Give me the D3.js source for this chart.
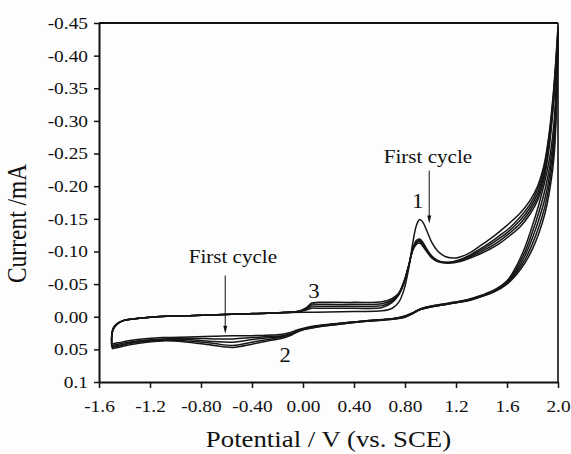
<!DOCTYPE html>
<html>
<head>
<meta charset="utf-8">
<script src="https://cdn.jsdelivr.net/npm/d3@7"></script>
<style>
  html, body { margin: 0; padding: 0; background: #fdfdfd; }
  svg { display: block; }
  text { font-family: "Liberation Serif", "Times New Roman", Times, serif; fill: #111; }
</style>
</head>
<body>
<svg id="chart" width="571" height="454"></svg>
<script>
// Axis ticks
const potentialTicks = [-1.6, -1.2, -0.8, -0.4, 0, 0.4, 0.8, 1.2, 1.6, 2.0];
const potentialTickLabels = ["-1.6", "-1.2", "-0.80", "-0.40", "0.00", "0.40", "0.80", "1.2", "1.6", "2.0"];
const currentTicks = [-0.45, -0.40, -0.35, -0.30, -0.25, -0.20, -0.15, -0.10, -0.05, 0.00, 0.05, 0.10];
const currentTickLabels = ["-0.45", "-0.40", "-0.35", "-0.30", "-0.25", "-0.20", "-0.15", "-0.10", "-0.05", "0.00", "0.05", "0.1"];

// Cyclic voltammogram, [potential V, current mA]; anodic sweep then cathodic sweep for each cycle
const anodic1 = [[-1.50,0.032],[-1.49,0.020],[-1.46,0.012],[-1.41,0.006],[-1.32,0.003],[-1.15,0.000],[-0.85,-0.002],[-0.50,-0.004],[-0.20,-0.006],[0.10,-0.007],[0.40,-0.008],[0.62,-0.009],[0.70,-0.013],[0.75,-0.022],[0.79,-0.040],[0.83,-0.075],[0.86,-0.112],[0.89,-0.140],[0.915,-0.149],[0.94,-0.145],[0.97,-0.132],[1.01,-0.114],[1.06,-0.100],[1.12,-0.092],[1.20,-0.090],[1.30,-0.097],[1.40,-0.110],[1.50,-0.124],[1.60,-0.140],[1.70,-0.158],[1.78,-0.178],[1.84,-0.200],[1.89,-0.232],[1.93,-0.280],[1.96,-0.335],[1.98,-0.385],[2.00,-0.445]];
const cathodic1 = [[2.00,-0.445],[1.99,-0.380],[1.97,-0.300],[1.94,-0.250],[1.90,-0.210],[1.85,-0.172],[1.80,-0.140],[1.74,-0.106],[1.68,-0.080],[1.60,-0.055],[1.50,-0.041],[1.40,-0.033],[1.30,-0.027],[1.15,-0.021],[1.00,-0.016],[0.92,-0.012],[0.86,-0.006],[0.80,-0.001],[0.70,0.003],[0.50,0.006],[0.30,0.010],[0.10,0.014],[0.02,0.017],[-0.04,0.020],[-0.10,0.024],[-0.16,0.027],[-0.25,0.028],[-0.40,0.029],[-0.55,0.029],[-0.70,0.030],[-0.90,0.031],[-1.10,0.032],[-1.30,0.035],[-1.45,0.040],[-1.50,0.042]];

const anodic2 = [[-1.50,0.042],[-1.50,0.030],[-1.49,0.020],[-1.46,0.012],[-1.41,0.006],[-1.32,0.003],[-1.15,0.000],[-0.85,-0.002],[-0.50,-0.004],[-0.20,-0.006],[-0.04,-0.008],[0.02,-0.010],[0.07,-0.013],[0.12,-0.013],[0.40,-0.013],[0.62,-0.014],[0.70,-0.022],[0.75,-0.033],[0.79,-0.050],[0.83,-0.079],[0.86,-0.104],[0.89,-0.117],[0.915,-0.119],[0.94,-0.114],[0.97,-0.104],[1.01,-0.093],[1.06,-0.086],[1.14,-0.083],[1.24,-0.088],[1.34,-0.098],[1.44,-0.110],[1.54,-0.124],[1.62,-0.136],[1.70,-0.152],[1.78,-0.172],[1.84,-0.195],[1.89,-0.228],[1.93,-0.275],[1.96,-0.330],[1.98,-0.380],[2.00,-0.440]];
const cathodic2 = [[2.00,-0.440],[1.99,-0.368],[1.97,-0.285],[1.94,-0.236],[1.90,-0.196],[1.85,-0.160],[1.80,-0.130],[1.74,-0.099],[1.68,-0.076],[1.60,-0.053],[1.50,-0.040],[1.40,-0.032],[1.30,-0.026],[1.15,-0.021],[1.00,-0.016],[0.92,-0.012],[0.86,-0.006],[0.80,-0.001],[0.70,0.003],[0.50,0.006],[0.30,0.010],[0.10,0.015],[0.02,0.018],[-0.04,0.021],[-0.10,0.026],[-0.16,0.029],[-0.25,0.030],[-0.40,0.032],[-0.55,0.034],[-0.70,0.034],[-0.90,0.033],[-1.10,0.034],[-1.30,0.037],[-1.45,0.042],[-1.50,0.044]];

const anodic3 = [[-1.50,0.044],[-1.50,0.030],[-1.49,0.019],[-1.46,0.011],[-1.41,0.006],[-1.32,0.003],[-1.15,0.000],[-0.85,-0.002],[-0.50,-0.004],[-0.20,-0.006],[-0.04,-0.008],[0.02,-0.011],[0.07,-0.016],[0.12,-0.016],[0.40,-0.016],[0.62,-0.017],[0.70,-0.024],[0.75,-0.034],[0.79,-0.051],[0.83,-0.079],[0.86,-0.103],[0.89,-0.115],[0.915,-0.117],[0.94,-0.112],[0.97,-0.102],[1.01,-0.092],[1.06,-0.085],[1.14,-0.083],[1.24,-0.087],[1.34,-0.096],[1.44,-0.107],[1.54,-0.120],[1.62,-0.132],[1.70,-0.147],[1.78,-0.167],[1.84,-0.189],[1.89,-0.222],[1.93,-0.270],[1.96,-0.325],[1.98,-0.375],[2.00,-0.435]];
const cathodic3 = [[2.00,-0.435],[1.99,-0.356],[1.97,-0.272],[1.94,-0.224],[1.90,-0.183],[1.85,-0.149],[1.80,-0.121],[1.74,-0.093],[1.68,-0.072],[1.60,-0.052],[1.50,-0.039],[1.40,-0.032],[1.30,-0.026],[1.15,-0.020],[1.00,-0.015],[0.92,-0.011],[0.86,-0.005],[0.80,0.000],[0.70,0.003],[0.50,0.006],[0.30,0.010],[0.10,0.015],[0.02,0.018],[-0.04,0.022],[-0.10,0.027],[-0.16,0.030],[-0.25,0.032],[-0.40,0.035],[-0.55,0.039],[-0.70,0.038],[-0.90,0.035],[-1.10,0.035],[-1.30,0.038],[-1.45,0.044],[-1.50,0.046]];

const anodic4 = [[-1.50,0.046],[-1.50,0.029],[-1.49,0.019],[-1.46,0.011],[-1.41,0.006],[-1.32,0.003],[-1.15,0.000],[-0.85,-0.002],[-0.50,-0.004],[-0.20,-0.006],[-0.04,-0.008],[0.02,-0.012],[0.07,-0.019],[0.12,-0.019],[0.40,-0.019],[0.62,-0.020],[0.70,-0.026],[0.75,-0.035],[0.79,-0.052],[0.83,-0.079],[0.86,-0.102],[0.89,-0.113],[0.915,-0.115],[0.94,-0.110],[0.97,-0.101],[1.01,-0.091],[1.06,-0.085],[1.14,-0.083],[1.24,-0.086],[1.34,-0.094],[1.44,-0.104],[1.54,-0.116],[1.62,-0.128],[1.70,-0.142],[1.78,-0.162],[1.84,-0.183],[1.89,-0.216],[1.93,-0.264],[1.96,-0.320],[1.98,-0.370],[2.00,-0.430]];
const cathodic4 = [[2.00,-0.430],[1.99,-0.344],[1.97,-0.260],[1.94,-0.212],[1.90,-0.171],[1.85,-0.138],[1.80,-0.112],[1.74,-0.087],[1.68,-0.069],[1.60,-0.051],[1.50,-0.039],[1.40,-0.031],[1.30,-0.025],[1.15,-0.020],[1.00,-0.015],[0.92,-0.011],[0.86,-0.005],[0.80,0.000],[0.70,0.004],[0.50,0.007],[0.30,0.011],[0.10,0.016],[0.02,0.019],[-0.04,0.022],[-0.10,0.028],[-0.16,0.031],[-0.25,0.034],[-0.40,0.039],[-0.55,0.044],[-0.70,0.041],[-0.90,0.037],[-1.10,0.036],[-1.30,0.039],[-1.45,0.045],[-1.50,0.047]];

const anodic5 = [[-1.50,0.047],[-1.50,0.029],[-1.49,0.018],[-1.46,0.011],[-1.41,0.006],[-1.32,0.003],[-1.15,0.000],[-0.85,-0.002],[-0.50,-0.004],[-0.20,-0.006],[-0.04,-0.008],[0.02,-0.013],[0.07,-0.021],[0.12,-0.022],[0.40,-0.022],[0.62,-0.023],[0.70,-0.028],[0.75,-0.036],[0.79,-0.053],[0.83,-0.079],[0.86,-0.101],[0.89,-0.111],[0.915,-0.113],[0.94,-0.108],[0.97,-0.100],[1.01,-0.090],[1.06,-0.084],[1.14,-0.082],[1.24,-0.085],[1.34,-0.092],[1.44,-0.101],[1.54,-0.112],[1.62,-0.124],[1.70,-0.137],[1.78,-0.157],[1.84,-0.178],[1.89,-0.210],[1.93,-0.258],[1.96,-0.315],[1.98,-0.365],[2.00,-0.425]];
const cathodic5 = [[2.00,-0.425],[1.99,-0.332],[1.97,-0.248],[1.94,-0.200],[1.90,-0.160],[1.85,-0.128],[1.80,-0.104],[1.74,-0.082],[1.68,-0.066],[1.60,-0.050],[1.50,-0.038],[1.40,-0.031],[1.30,-0.025],[1.15,-0.020],[1.00,-0.015],[0.92,-0.011],[0.86,-0.005],[0.80,0.001],[0.70,0.004],[0.50,0.007],[0.30,0.011],[0.10,0.016],[0.02,0.019],[-0.04,0.023],[-0.10,0.029],[-0.16,0.033],[-0.25,0.036],[-0.40,0.042],[-0.55,0.047],[-0.70,0.044],[-0.90,0.039],[-1.10,0.037],[-1.30,0.041],[-1.45,0.047],[-1.50,0.049]];

const cycles = [
  anodic1.concat(cathodic1),
  anodic2.concat(cathodic2),
  anodic3.concat(cathodic3),
  anodic4.concat(cathodic4),
  anodic5.concat(cathodic5)
];

const svg = d3.select("#chart");
const W = 571, H = 454;
const margin = { left: 99, right: 13, top: 23, bottom: 72 };
const plotW = W - margin.left - margin.right;
const plotH = H - margin.top - margin.bottom;
const stretch = 1.14;   // the lettering is set slightly wide
const serif = "Liberation Serif, Times New Roman, Times, serif";

const x = d3.scaleLinear().domain([-1.6, 2.0]).range([margin.left, margin.left + plotW]);
const y = d3.scaleLinear().domain([-0.45, 0.10]).range([margin.top, margin.top + plotH]);

svg.append("rect").attr("width", W).attr("height", H).attr("fill", "#fdfdfd");

// curves
const line = d3.line()
  .x(d => x(d[0]))
  .y(d => y(d[1]))
  .curve(d3.curveCatmullRom.alpha(0.5));

svg.append("g")
  .selectAll("path")
  .data(cycles)
  .join("path")
  .attr("d", line)
  .attr("fill", "none")
  .attr("stroke", "#161616")
  .attr("stroke-width", 1.5)
  .attr("stroke-linejoin", "round");

// frame: top and right edges
svg.append("line")
  .attr("x1", x(-1.6)).attr("x2", x(2.0)).attr("y1", y(-0.45)).attr("y2", y(-0.45))
  .attr("stroke", "#111").attr("stroke-width", 2);
svg.append("line")
  .attr("x1", x(2.0)).attr("x2", x(2.0)).attr("y1", y(-0.45)).attr("y2", y(0.10))
  .attr("stroke", "#111").attr("stroke-width", 1.6);

// axes
const xAxis = d3.axisBottom(x)
  .tickValues(potentialTicks)
  .tickFormat((d, i) => potentialTickLabels[i])
  .tickSizeInner(6).tickSizeOuter(0).tickPadding(7);
const gx = svg.append("g")
  .attr("transform", `translate(0,${y(0.10)})`)
  .call(xAxis);

const yAxis = d3.axisLeft(y)
  .tickValues(currentTicks)
  .tickFormat((d, i) => currentTickLabels[i])
  .tickSizeInner(5).tickSizeOuter(0).tickPadding(6);
const gy = svg.append("g")
  .attr("transform", `translate(${x(-1.6)},0)`)
  .call(yAxis);

[gx, gy].forEach(g => {
  g.attr("font-family", serif);
  g.select(".domain").attr("stroke", "#111").attr("stroke-width", 2);
  g.selectAll(".tick line").attr("stroke", "#111").attr("stroke-width", 1.5);
  g.selectAll(".tick text")
    .attr("font-size", 17)
    .attr("fill", "#111");
});
gx.selectAll(".tick text").attr("transform", `scale(${stretch},1)`).attr("dy", "1em");
gy.selectAll(".tick text")
  .attr("x", -11 / stretch)
  .attr("transform", `scale(${stretch},1)`);

// axis titles
svg.append("text")
  .attr("transform", `translate(${(x(-1.6) + x(2.0)) / 2},447) scale(${stretch},1)`)
  .attr("text-anchor", "middle")
  .attr("font-size", 23.5)
  .text("Potential / V (vs. SCE)");

svg.append("text")
  .attr("transform", `translate(26,${y(-0.143)}) scale(${stretch},1) rotate(-90)`)
  .attr("text-anchor", "middle")
  .attr("font-size", 23.5)
  .text("Current /mA");

// annotations
function label(txt, v, i, size) {
  svg.append("text")
    .attr("transform", `translate(${x(v)},${y(i)}) scale(${stretch},1)`)
    .attr("text-anchor", "middle")
    .attr("font-size", size)
    .text(txt);
}
function arrow(v, iFrom, iTo) {
  const x0 = x(v), y0 = y(iFrom), y1 = y(iTo);
  svg.append("line")
    .attr("x1", x0).attr("x2", x0).attr("y1", y0).attr("y2", y1 - 7)
    .attr("stroke", "#111").attr("stroke-width", 1);
  svg.append("path")
    .attr("d", `M${x0 - 2},${y1 - 8} L${x0 + 2},${y1 - 8} L${x0},${y1} Z`)
    .attr("fill", "#111");
}

label("First cycle", 0.98, -0.235, 18.5);
arrow(0.99, -0.224, -0.143);
label("1", 0.90, -0.166, 20);

label("First cycle", -0.55, -0.083, 18.5);
arrow(-0.61, -0.063, 0.026);

label("3", 0.086, -0.028, 20);
label("2", -0.14, 0.070, 20);
</script>
</body>
</html>
